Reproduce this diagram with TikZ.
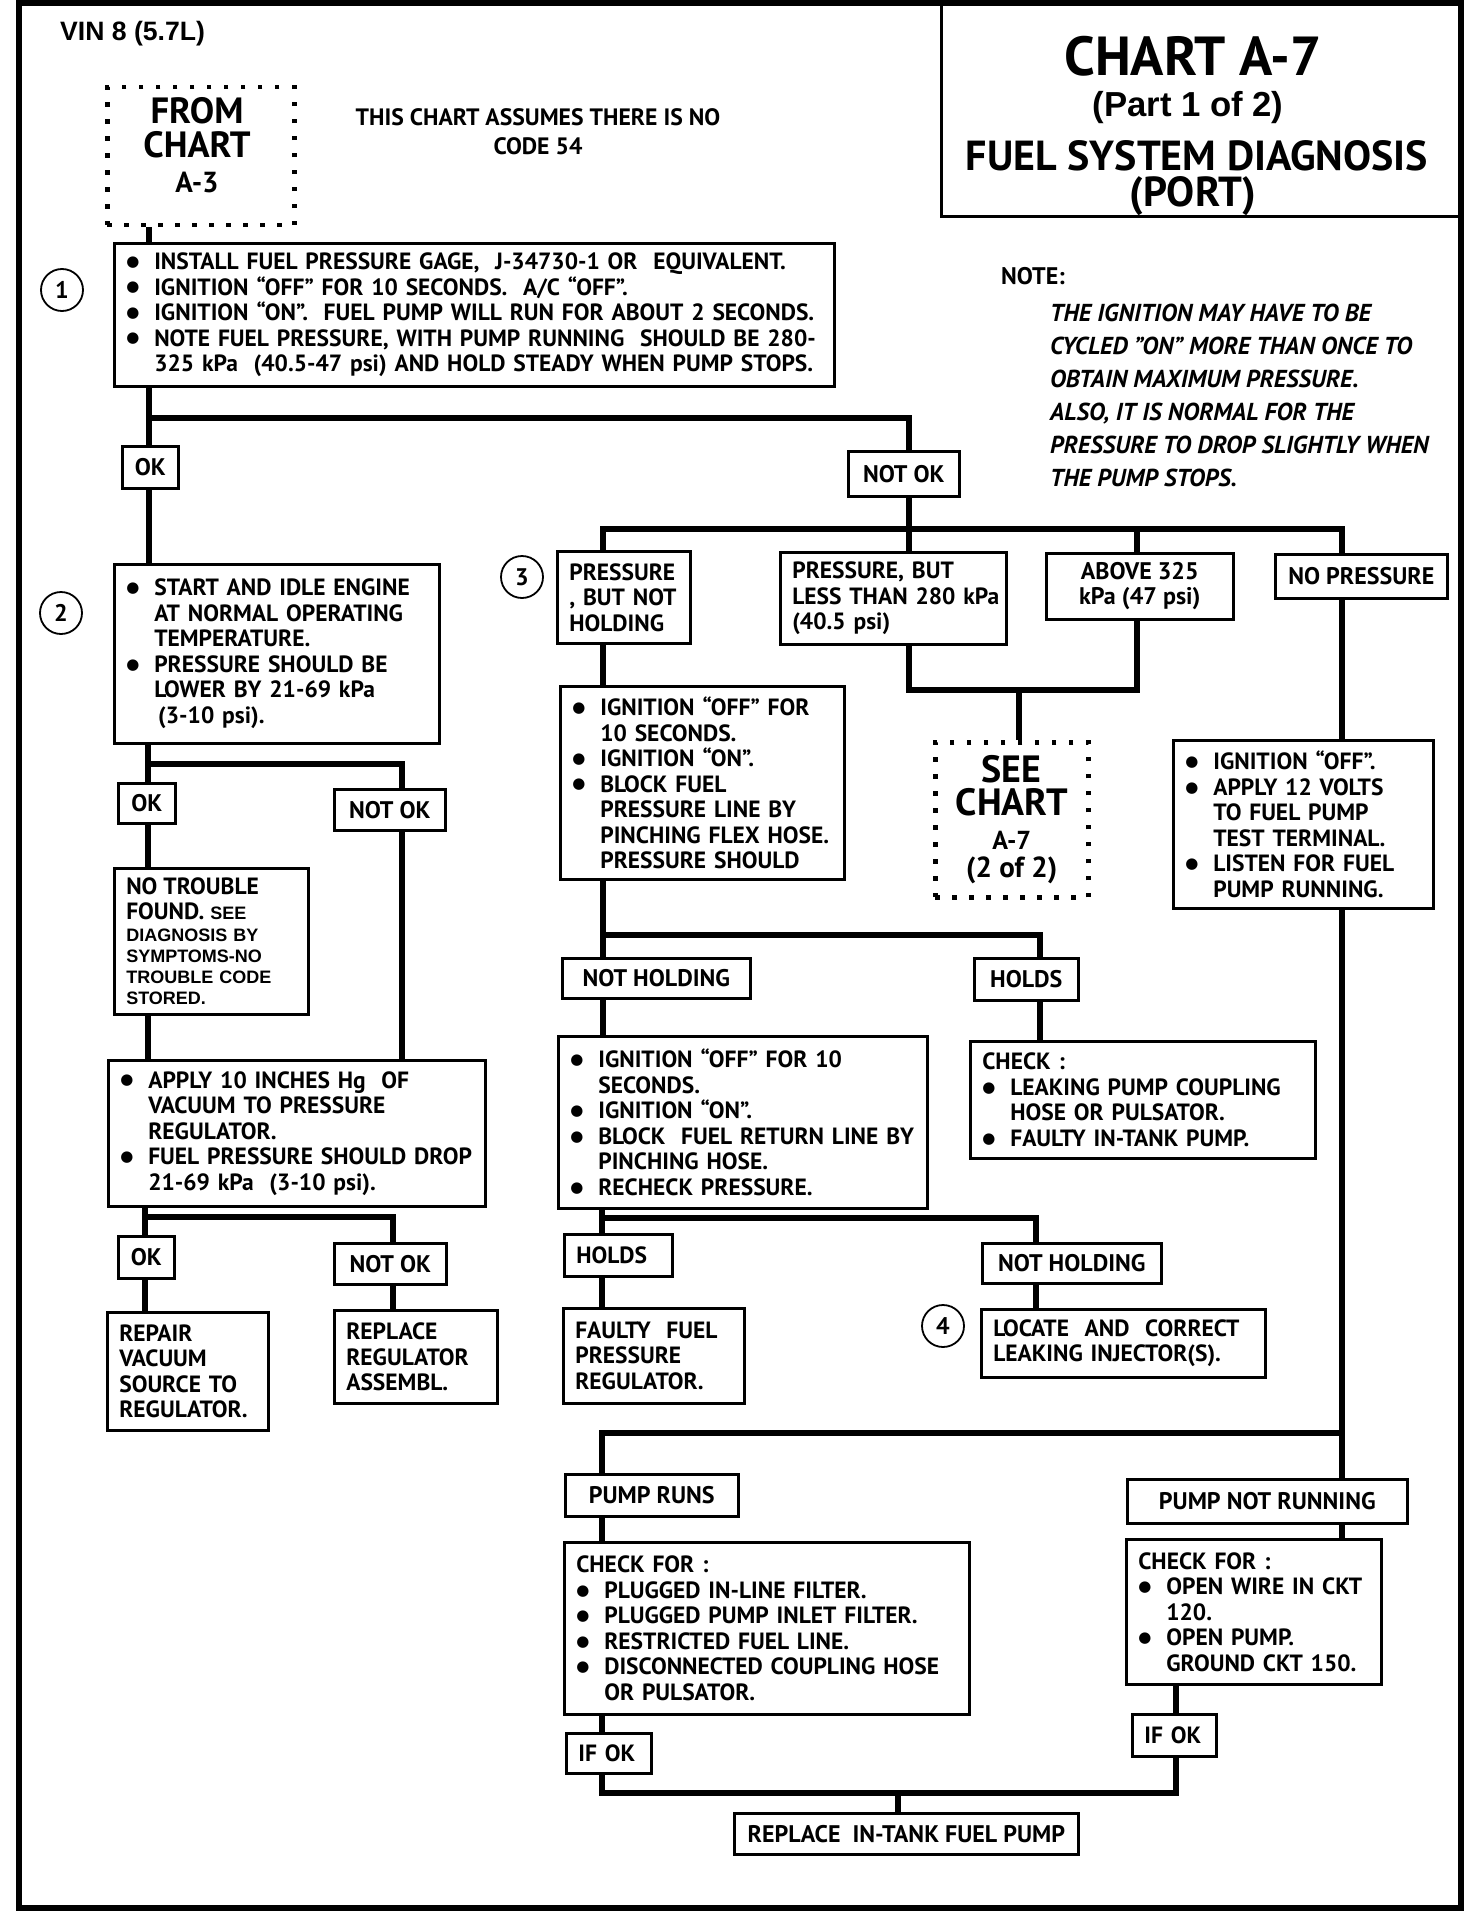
\documentclass[tikz,border=0pt]{standalone}
\usepackage{fontspec}
\setmainfont{PT Sans}
\newfontfamily\helv{Liberation Sans}
\newfontfamily\symfont{DejaVu Sans}
\newcommand\boxfont{\bfseries\fontsize{23.5}{25.5}\selectfont}
\newcommand\tagfont{\bfseries\fontsize{24}{25}\selectfont}
\newcommand\bigdot{\raisebox{3.2pt}{\symfont\fontsize{15}{15}\selectfont ●}}
\newcommand\bul[1]{\makebox[28pt][l]{\bigdot}\mbox{#1}}
\newcommand\ind[1]{\hspace*{28pt}\mbox{#1}}
\tikzset{
  box at/.code n args={4}{%
    \pgfmathsetmacro\boxw{#3-#1}%
    \pgfmathsetmacro\boxh{#4-#2}%
    \pgfmathsetmacro\boxtw{#3-#1-24}%
    \edef\boxtemp{\noexpand\pgfkeysalso{anchor=north west, at={(#1,#2)},
      minimum width=\boxw pt, minimum height=\boxh pt, text width=\boxtw pt}}%
    \boxtemp
  },
  tag at/.code n args={4}{%
    \pgfmathsetmacro\boxw{#3-#1}%
    \pgfmathsetmacro\boxh{#4-#2}%
    \edef\boxtemp{\noexpand\pgfkeysalso{anchor=north west, at={(#1,#2)},
      minimum width=\boxw pt, minimum height=\boxh pt}}%
    \boxtemp
  }
}
\begin{document}
\begin{tikzpicture}[x=1pt, y=-1pt,
  stepbox/.style={draw, line width=2.6pt, inner xsep=12pt, inner ysep=0pt, align=left, font=\boxfont},
  tagbox/.style={draw, line width=2.6pt, inner sep=0pt, align=center, font=\tagfont},
  dotbox/.style={draw, line width=4.5pt, dash pattern=on 4.5pt off 12.5pt, inner sep=0pt, align=center},
  stepno/.style={draw, circle, line width=1.8pt, minimum size=42pt, inner sep=0pt, font=\bfseries\fontsize{24}{24}\selectfont},
  conn/.style={line width=6.5pt}
]
\useasboundingbox (0,0) rectangle (1472,1918);
\draw[line width=5.5pt] (19,3) rectangle (1461,1908);

\node[anchor=west, inner sep=0pt, font=\helv\bfseries\fontsize{26.6}{30}\selectfont] (vin) at (60,34) {VIN 8 (5.7L)};
\node[tagbox, tag at={940}{3}{1460}{215}] (title) {};
\node[inner sep=0pt, font=\bfseries\fontsize{55}{58}\selectfont] (chartname) at (1193,56) {CHART A-7};
\node[inner sep=0pt, font=\helv\bfseries\fontsize{34.7}{38}\selectfont] (chartpart) at (1188,108) {(Part 1 of 2)};
\node[inner sep=0pt, font=\bfseries\fontsize{42}{44}\selectfont] (charttopic) at (1197,156) {FUEL SYSTEM DIAGNOSIS};
\node[inner sep=0pt, font=\bfseries\fontsize{42}{44}\selectfont] (chartport) at (1193,196) {(PORT)};

\node[dotbox, tag at={105}{85}{292}{223}] (from) {};
\node[align=center, inner sep=0pt, font=\bfseries\fontsize{36.5}{34.5}\selectfont] (fromtext) at (197,145) {FROM\\CHART\\{\fontsize{29}{30}\selectfont A-3}};
\node[align=center, inner sep=0pt, font=\bfseries\fontsize{23.7}{29}\selectfont] (assume) at (538,132) {THIS CHART ASSUMES THERE IS NO\\CODE 54};
\node[anchor=west, inner sep=0pt, font=\bfseries\fontsize{24}{26}\selectfont] (notehead) at (1001,276) {NOTE:};
\node[anchor=north west, inner sep=0pt, align=left, font=\bfseries\itshape\fontsize{24.5}{33}\selectfont] (note) at (1050,304)
  {THE IGNITION MAY HAVE TO BE\\CYCLED "ON" MORE THAN ONCE TO\\OBTAIN MAXIMUM PRESSURE.\\ALSO, IT IS NORMAL FOR THE\\PRESSURE TO DROP SLIGHTLY WHEN\\THE PUMP STOPS.};

\node[stepno] (stepA) at (62,290) {1};
\node[stepno] (stepB) at (61,613) {2};
\node[stepno] (stepC) at (522,577) {3};
\node[stepno] (stepD) at (943,1326) {4};

\node[stepbox, box at={113}{242}{833}{385}] (install) {%
  \bul{INSTALL FUEL PRESSURE GAGE,\ \ J-34730-1 OR\ \ EQUIVALENT.}\\
  \bul{IGNITION “OFF” FOR 10 SECONDS.\ \ A/C “OFF”.}\\
  \bul{IGNITION “ON”.\ \ FUEL PUMP WILL RUN FOR ABOUT 2 SECONDS.}\\
  \bul{NOTE FUEL PRESSURE, WITH PUMP RUNNING\ \ SHOULD BE 280-}\\
  \ind{325 kPa\ \ (40.5-47 psi) AND HOLD STEADY WHEN PUMP STOPS.}};
\node[tagbox, tag at={121}{445}{177}{487}] (okA) {OK};
\node[tagbox, tag at={847}{450}{958}{495}] (notokA) {NOT OK};
\node[stepbox, box at={113}{563}{438}{742}] (idle) {%
  \bul{START AND IDLE ENGINE}\\
  \ind{AT NORMAL OPERATING}\\
  \ind{TEMPERATURE.}\\
  \bul{PRESSURE SHOULD BE}\\
  \ind{LOWER BY 21-69 kPa}\\
  \ind{\,(3-10 psi).}};
\node[tagbox, tag at={117}{782}{174}{822}] (okB) {OK};
\node[tagbox, tag at={333}{788}{444}{829}] (notokB) {NOT OK};
\node[stepbox, box at={113}{867}{307}{1013}, font=\helv\bfseries\fontsize{18}{21}\selectfont] (nofault) {%
  {\rmfamily\fontsize{23.5}{25}\selectfont NO TROUBLE}\\[4pt]
  {\rmfamily\fontsize{23.5}{25}\selectfont FOUND.}\ SEE\\[1pt]
  DIAGNOSIS BY\\
  SYMPTOMS-NO\\
  TROUBLE CODE\\
  STORED.};
\node[stepbox, box at={107}{1059}{484}{1205}] (vacuum) {%
  \bul{APPLY 10 INCHES Hg\ \ OF}\\
  \ind{VACUUM TO PRESSURE}\\
  \ind{REGULATOR.}\\
  \bul{FUEL PRESSURE SHOULD DROP}\\
  \ind{21-69 kPa\ \ (3-10 psi).}};
\node[tagbox, tag at={117}{1235}{173}{1277}] (okC) {OK};
\node[tagbox, tag at={333}{1242}{445}{1283}] (notokC) {NOT OK};
\node[stepbox, box at={106}{1311}{267}{1429}] (repair) {REPAIR\\VACUUM\\SOURCE TO\\REGULATOR.};
\node[stepbox, box at={333}{1309}{496}{1402}] (replace) {REPLACE\\REGULATOR\\ASSEMBL.};

\node[stepbox, box at={556}{550}{689}{642}] (noholdcase) {PRESSURE\\, BUT NOT\\HOLDING};
\node[stepbox, box at={779}{551}{1005}{643}] (lowcase) {\mbox{PRESSURE, BUT}\\\mbox{LESS THAN 280 kPa}\\(40.5 psi)};
\node[tagbox, tag at={1045}{552}{1232}{618}] (highcase) {ABOVE 325\\kPa (47 psi)};
\node[tagbox, tag at={1274}{553}{1446}{597}] (nocase) {NO PRESSURE};
\node[dotbox, tag at={933}{740}{1086}{895}, font=\bfseries\fontsize{29}{28}\selectfont] (seechart)
  {{\fontsize{38}{38}\selectfont SEE}\\[5pt]{\fontsize{38}{38}\selectfont CHART}\\[6pt]{\fontsize{26}{28}\selectfont A-7}\\(2 of 2)};
\node[stepbox, box at={559}{685}{843}{878}] (flexhose) {%
  \bul{IGNITION “OFF” FOR}\\
  \ind{10 SECONDS.}\\
  \bul{IGNITION “ON”.}\\
  \bul{BLOCK FUEL}\\
  \ind{PRESSURE LINE BY}\\
  \ind{PINCHING FLEX HOSE.}\\
  \ind{PRESSURE SHOULD}};
\node[stepbox, box at={1172}{739}{1432}{907}] (testterm) {%
  \bul{IGNITION “OFF”.}\\
  \bul{APPLY 12 VOLTS}\\
  \ind{TO FUEL PUMP}\\
  \ind{TEST TERMINAL.}\\
  \bul{LISTEN FOR FUEL}\\
  \ind{PUMP RUNNING.}};
\node[tagbox, tag at={561}{957}{749}{997}] (notholdA) {NOT HOLDING};
\node[tagbox, tag at={973}{957}{1077}{999}] (holdsA) {HOLDS};
\node[stepbox, box at={969}{1040}{1314}{1157}] (coupling) {%
  CHECK :\\
  \bul{LEAKING PUMP COUPLING}\\
  \ind{HOSE OR PULSATOR.}\\
  \bul{FAULTY IN-TANK PUMP.}};
\node[stepbox, box at={557}{1035}{926}{1207}] (returnline) {%
  \bul{IGNITION “OFF” FOR 10}\\
  \ind{SECONDS.}\\
  \bul{IGNITION “ON”.}\\
  \bul{BLOCK\ \ FUEL RETURN LINE BY}\\
  \ind{PINCHING HOSE.}\\
  \bul{RECHECK PRESSURE.}};
\node[stepbox, box at={563}{1233}{671}{1275}] (holdsB) {HOLDS};
\node[tagbox, tag at={981}{1242}{1160}{1282}] (notholdB) {NOT HOLDING};
\node[stepbox, box at={562}{1307}{743}{1402}] (regulator) {FAULTY\ \ FUEL\\PRESSURE\\REGULATOR.};
\node[stepbox, box at={980}{1308}{1264}{1376}] (injector) {\mbox{LOCATE\ \ AND\ \ CORRECT}\\\mbox{LEAKING INJECTOR(S).}};

\node[tagbox, tag at={564}{1473}{737}{1515}] (runs) {PUMP RUNS};
\node[stepbox, box at={563}{1541}{968}{1713}] (runcheck) {%
  CHECK FOR :\\
  \bul{PLUGGED IN-LINE FILTER.}\\
  \bul{PLUGGED PUMP INLET FILTER.}\\
  \bul{RESTRICTED FUEL LINE.}\\
  \bul{DISCONNECTED COUPLING HOSE}\\
  \ind{OR PULSATOR.}};
\node[stepbox, box at={565}{1732}{650}{1772}] (ifokA) {IF OK};
\node[tagbox, tag at={733}{1812}{1077}{1853}] (newpump) {REPLACE\hspace{12pt}IN-TANK FUEL PUMP};
\node[tagbox, tag at={1126}{1478}{1406}{1522}] (notruns) {PUMP NOT RUNNING};
\node[stepbox, box at={1125}{1538}{1380}{1683}] (stopcheck) {%
  CHECK FOR :\\
  \bul{OPEN WIRE IN CKT}\\
  \ind{120.}\\
  \bul{OPEN PUMP.}\\
  \ind{GROUND CKT 150.}};
\node[stepbox, box at={1131}{1713}{1215}{1755}] (ifokB) {IF OK};

\coordinate (jA) at (149,418);
\coordinate (jAr) at (909,418);
\coordinate (jB) at (148,764);
\coordinate (jBr) at (402,764);
\coordinate (jC) at (145,1217);
\coordinate (jCr) at (393,1217);
\coordinate (jD) at (909,529);
\coordinate (jDl) at (603,529);
\coordinate (jDa) at (1137,529);
\coordinate (jDr) at (1342,529);
\coordinate (jE) at (909,690);
\coordinate (jEm) at (1019,690);
\coordinate (jEr) at (1137,690);
\coordinate (jF) at (603,935);
\coordinate (jFr) at (1040,935);
\coordinate (jG) at (602,1218);
\coordinate (jGr) at (1036,1218);
\coordinate (jH) at (1342,1433);
\coordinate (jHl) at (602,1433);
\coordinate (jI) at (602,1793);
\coordinate (jIm) at (898,1793);
\coordinate (jIr) at (1176,1793);

\foreach \a/\b/\j in {from/install/jA, install/okA/jA, okA/idle/jA, idle/okB/jB, okB/nofault/jB,
    nofault/vacuum/jB, notokB/vacuum/jBr, vacuum/okC/jC, okC/repair/jC, notokC/replace/jCr,
    notokA/lowcase/jD, noholdcase/flexhose/jDl, flexhose/notholdA/jF, notholdA/returnline/jF,
    holdsA/coupling/jFr, returnline/holdsB/jG, holdsB/regulator/jG, notholdB/injector/jGr,
    nocase/testterm/jDr, testterm/notruns/jH, runs/runcheck/jHl, runcheck/ifokA/jHl,
    notruns/stopcheck/jH, stopcheck/ifokB/jIr}
  \draw[conn] (\a.south -| \j) -- (\b.north -| \j);

\draw[conn] (jA) -- (jAr) -- (notokA.north -| jAr);
\draw[conn] (jB) -- (jBr) -- (notokB.north -| jBr);
\draw[conn] (jC) -- (jCr) -- (notokC.north -| jCr);
\draw[conn] (noholdcase.north -| jDl) -- (jDl) -- (jDr) -- (nocase.north -| jDr);
\draw[conn] (jDa) -- (highcase.north -| jDa);
\draw[conn] (lowcase.south -| jE) -- (jE) -- (jEr) -- (highcase.south -| jEr);
\draw[conn] (jEm) -- (seechart.north -| jEm);
\draw[conn] (jF) -- (jFr) -- (holdsA.north -| jFr);
\draw[conn] (jG) -- (jGr) -- (notholdB.north -| jGr);
\draw[conn] (runs.north -| jHl) -- (jHl) -- (jH);
\draw[conn] (ifokA.south -| jI) -- (jI) -- (jIr) -- (ifokB.south -| jIr);
\draw[conn] (jIm) -- (newpump.north -| jIm);
\end{tikzpicture}
\end{document}
